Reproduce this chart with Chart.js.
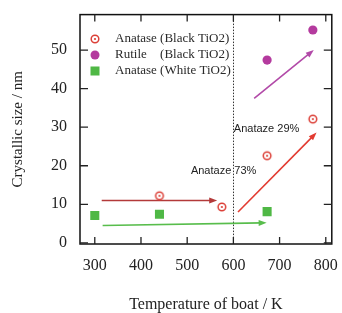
<!DOCTYPE html>
<html>
<head>
<meta charset="utf-8">
<script src="https://cdn.jsdelivr.net/npm/chart.js@4.4.1/dist/chart.umd.min.js"></script>
<style>
  html,body{margin:0;padding:0;background:#fff;}
  #wrap{width:342px;height:313px;position:relative;}
</style>
</head>
<body>
<div id="wrap"><canvas id="c" width="342" height="313"></canvas></div>
<script>
// values
const xTicks = [300, 400, 500, 600, 700, 800];
const yTicks = [0, 10, 20, 30, 40, 50];

const anataseBlackX = [440, 575, 673, 772];
const anataseBlackY = [12.2, 9.3, 22.6, 32.1];
const rutileBlackX = [673, 772];
const rutileBlackY = [47.4, 55.2];
const anataseWhiteX = [300, 440, 673];
const anataseWhiteY = [7.1, 7.4, 8.1];

// arrows: [x1, y1, x2, y2] in data units
const arrows = [
  {from: [315, 11.0], to: [565, 11.0], color: '#b33a3a'},
  {from: [317, 4.5], to: [672, 5.2], color: '#58bd4c'},
  {from: [610, 8.0], to: [780, 28.6], color: '#e23b31'},
  {from: [645, 37.5], to: [774, 50.0], color: '#b24aa8'}
];
const notes = [
  {text: 'Anataze 29%', x: 601, y: 29.6},
  {text: 'Anataze 73%', x: 508, y: 18.7}
];
const splitX = 600;

const RED = '#dc4038', PURPLE = '#b43a9e', GREEN = '#4fb845';

function openDot(){
  const cv = document.createElement('canvas');
  cv.width = 12; cv.height = 12;
  const g = cv.getContext('2d');
  g.strokeStyle = RED; g.lineWidth = 1.5;
  g.beginPath(); g.arc(6, 6, 3.8, 0, Math.PI*2); g.stroke();
  g.fillStyle = RED;
  g.beginPath(); g.arc(6, 6, 1.1, 0, Math.PI*2); g.fill();
  return cv;
}
const openDotImg = openDot();

function pts(xs, ys){ return xs.map((x,i)=>({x, y: ys[i]})); }

const serif = '"Liberation Serif", "DejaVu Serif", serif';

const decor = {
  id: 'decor',
  beforeDatasetsDraw(chart){
    const {ctx, chartArea: a, scales: {x, y}} = chart;
    ctx.save();
    // dotted split line
    ctx.strokeStyle = '#333'; ctx.lineWidth = 1; ctx.setLineDash([1.5, 1.5]);
    const sx = Math.round(x.getPixelForValue(splitX)) + 0.5;
    ctx.beginPath(); ctx.moveTo(sx, a.top); ctx.lineTo(sx, a.bottom); ctx.stroke();
    ctx.setLineDash([]);
    // arrows
    arrows.forEach(ar=>{
      const x1 = x.getPixelForValue(ar.from[0]), y1 = y.getPixelForValue(ar.from[1]);
      const x2 = x.getPixelForValue(ar.to[0]), y2 = y.getPixelForValue(ar.to[1]);
      const ang = Math.atan2(y2-y1, x2-x1);
      ctx.strokeStyle = ar.color; ctx.fillStyle = ar.color; ctx.lineWidth = 1.6;
      ctx.beginPath(); ctx.moveTo(x1, y1); ctx.lineTo(x2 - 5*Math.cos(ang), y2 - 5*Math.sin(ang)); ctx.stroke();
      ctx.beginPath();
      ctx.moveTo(x2, y2);
      ctx.lineTo(x2 - 8*Math.cos(ang) + 3*Math.sin(ang), y2 - 8*Math.sin(ang) - 3*Math.cos(ang));
      ctx.lineTo(x2 - 8*Math.cos(ang) - 3*Math.sin(ang), y2 - 8*Math.sin(ang) + 3*Math.cos(ang));
      ctx.closePath(); ctx.fill();
    });
    // notes
    ctx.fillStyle = '#222'; ctx.font = '11px "Liberation Sans", Arial, sans-serif';
    ctx.textBaseline = 'middle'; ctx.textAlign = 'left';
    notes.forEach(n=>ctx.fillText(n.text, x.getPixelForValue(n.x), y.getPixelForValue(n.y)));
    ctx.restore();
  },
  afterDraw(chart){
    const {ctx, chartArea: a, scales: {x, y}} = chart;
    ctx.save();
    ctx.strokeStyle = '#111'; ctx.lineWidth = 1.5;
    ctx.strokeRect(a.left, a.top, a.right - a.left, a.bottom - a.top);
    ctx.lineWidth = 1.3; ctx.strokeStyle = '#222';
    xTicks.forEach(v=>{
      const px = x.getPixelForValue(v);
      ctx.beginPath();
      ctx.moveTo(px, a.top); ctx.lineTo(px, a.top + 7);
      ctx.moveTo(px, a.bottom); ctx.lineTo(px, a.bottom - 7);
      ctx.stroke();
    });
    yTicks.forEach(v=>{
      const py = y.getPixelForValue(v);
      ctx.beginPath();
      ctx.moveTo(a.left, py); ctx.lineTo(a.left + 8, py);
      ctx.moveTo(a.right, py); ctx.lineTo(a.right - 8, py);
      ctx.stroke();
    });
    // legend inside the plot
    const ds = chart.data.datasets;
    const lx = 95, rows = [39, 55, 71];
    ctx.font = '13px ' + serif; ctx.fillStyle = '#2a2a2a';
    ctx.textBaseline = 'middle'; ctx.textAlign = 'left';
    const tabX = 115 + ctx.measureText('Anatase ').width;
    rows.forEach((ry, i)=>{
      if (i === 0) ctx.drawImage(openDotImg, lx - 6, ry - 6);
      else if (i === 1) { ctx.fillStyle = PURPLE; ctx.beginPath(); ctx.arc(lx, ry, 4.5, 0, Math.PI*2); ctx.fill(); }
      else { ctx.fillStyle = GREEN; ctx.fillRect(lx - 4.5, ry - 4.5, 9, 9); }
      ctx.fillStyle = '#2a2a2a';
      const [name, rest] = ds[i].label.split('|');
      ctx.fillText(name, 115, ry);
      ctx.fillText(rest, tabX, ry);
    });
    ctx.restore();
  }
};

new Chart(document.getElementById('c'), {
  type: 'scatter',
  data: {
    datasets: [
      {label: 'Anatase|(Black TiO2)', data: pts(anataseBlackX, anataseBlackY),
       pointStyle: openDotImg, pointRadius: 6},
      {label: 'Rutile|(Black TiO2)', data: pts(rutileBlackX, rutileBlackY),
       pointStyle: 'circle', pointRadius: 4.6, backgroundColor: PURPLE, borderColor: PURPLE, borderWidth: 0},
      {label: 'Anatase|(White TiO2)', data: pts(anataseWhiteX, anataseWhiteY),
       pointStyle: 'rect', pointRadius: 6.4, backgroundColor: GREEN, borderColor: GREEN, borderWidth: 0}
    ]
  },
  options: {
    responsive: false,
    animation: false,
    layout: {padding: {left: 0, right: 9, top: 13, bottom: 0}},
    plugins: {legend: {display: false}, tooltip: {enabled: false}},
    scales: {
      x: {
        type: 'linear', min: 268, max: 813,
        afterBuildTicks: s => { s.ticks = xTicks.map(v=>({value: v})); },
        afterFit: s => { s.height = 69; },
        grid: {display: false},
        border: {display: false},
        ticks: {color: '#222', padding: 4, font: {family: serif, size: 16}},
        title: {display: true, text: 'Temperature of boat / K', color: '#222',
                font: {family: serif, size: 16, lineHeight: 1}, padding: {top: 0, bottom: 0}}
      },
      y: {
        type: 'linear', min: -0.3, max: 59.2,
        afterBuildTicks: s => { s.ticks = yTicks.map(v=>({value: v})); },
        afterFit: s => { s.width = 80; },
        grid: {display: false},
        border: {display: false},
        ticks: {color: '#222', padding: 5, font: {family: serif, size: 16}},
        title: {display: true, text: 'Crystallic size / nm', color: '#222',
                font: {family: serif, size: 15, lineHeight: 1}, padding: {top: 11, bottom: 0}}
      }
    }
  },
  plugins: [decor]
});
</script>
</body>
</html>
